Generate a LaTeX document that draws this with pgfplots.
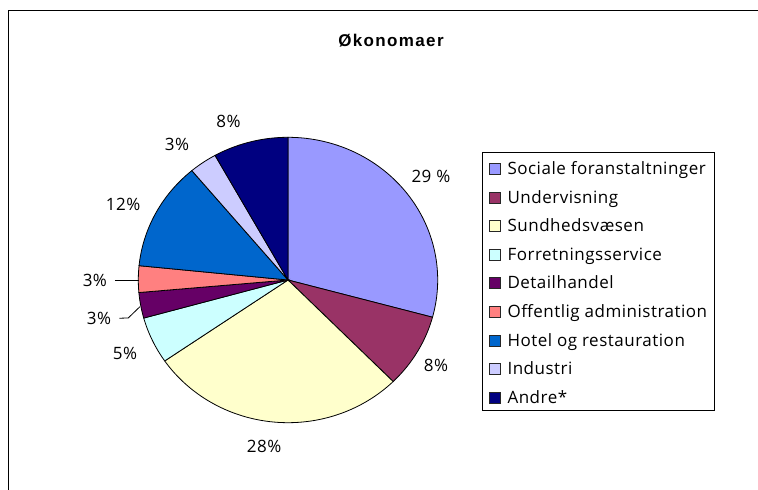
\documentclass[border=0pt]{standalone}
\usepackage{fontspec}
\setmainfont[LetterSpace=3]{Open Sans}
\newfontfamily\titlefont[LetterSpace=8]{Liberation Sans}
\usepackage{pgfplots}
\usepackage{pgfplotstable}
\pgfplotsset{compat=1.18}
\definecolor{c1}{HTML}{9999FF}
\definecolor{c2}{HTML}{993366}
\definecolor{c3}{HTML}{FFFFCC}
\definecolor{c4}{HTML}{CCFFFF}
\definecolor{c5}{HTML}{660066}
\definecolor{c6}{HTML}{FF8080}
\definecolor{c7}{HTML}{0066CC}
\definecolor{c8}{HTML}{CCCCFF}
\definecolor{c9}{HTML}{000080}
\pgfplotstableread[col sep=semicolon,row sep=\\]{
name;value;color\\
Sociale foranstaltninger;29.2;c1\\
Undervisning;8.4;c2\\
Sundhedsvæsen;27.8;c3\\
Forretningsservice;5.3;c4\\
Detailhandel;2.9;c5\\
Offentlig administration;3.0;c6\\
Hotel og restauration;12.3;c7\\
Industri;3.0;c8\\
Andre*;8.1;c9\\
}\piedata
\begin{document}
\begin{tikzpicture}
\useasboundingbox (0,0) rectangle (758pt,490pt);
\draw[line width=1pt] (8pt,0pt) -- (8pt,479pt) -- (758pt,479pt);
\node[font=\titlefont\bfseries\fontsize{17}{20}\selectfont] at (391pt,449pt) {Økonomaer};
\begin{axis}[
  scale only axis, width=299.4pt, height=285.4pt,
  at={(288pt,210pt)}, anchor=center,
  xmin=-1, xmax=1, ymin=-1, ymax=1,
  hide axis, clip=false,
  font=\fontsize{17}{20}\selectfont,
  legend style={at={(1.148,0.949)}, anchor=north west, draw=black, line width=0.8pt,
    inner xsep=7pt, inner ysep=6.9pt, row sep=13.35pt, column sep=6.5pt,
    font=\fontsize{17}{20}\selectfont,
    cells={anchor=west},
    nodes={inner sep=0pt, text height=15.2pt, text depth=0pt}},
  legend image code/.code={\draw[#1, line width=0.6pt, draw=black!85] (0pt,-7.4pt) rectangle (11pt,3.6pt);},
]
\pgfplotstablegetrowsof{\piedata}
\pgfmathtruncatemacro\N{\pgfplotsretval-1}
\def\cum{0}
\pgfplotsforeachungrouped \i in {0,...,\N}{%
  \pgfplotstablegetelem{\i}{value}\of\piedata \let\sliceval\pgfplotsretval
  \pgfplotstablegetelem{\i}{color}\of\piedata \let\slicecol\pgfplotsretval
  \pgfplotstablegetelem{\i}{name}\of\piedata \let\slicename\pgfplotsretval
  \pgfmathsetmacro\a{90-3.6*\cum}%
  \pgfmathsetmacro\cum{\cum+\sliceval}%
  \pgfmathsetmacro\b{90-3.6*\cum}%
  \edef\doplot{\noexpand\addplot[draw=black, line width=0.8pt, fill=\slicecol, domain=\b:\a, samples=90, variable=\noexpand\t] ({cos(\noexpand\t)},{sin(\noexpand\t)}) -- (axis cs:0,0) -- cycle; \noexpand\addlegendentry{\slicename}}%
  \doplot
}
\node at (axis cs:0.955,0.729) {29 \%};
\node at (axis cs:0.988,-0.596) {8\%};
\node at (axis cs:-0.160,-1.168) {28\%};
\node at (axis cs:-1.089,-0.514) {5\%};
\node at (axis cs:-1.262,-0.266) {3\%};
\node at (axis cs:-1.290,0) {3\%};
\node at (axis cs:-1.102,0.533) {12\%};
\node at (axis cs:-0.742,0.953) {3\%};
\node at (axis cs:-0.397,1.109) {8\%};
\draw[line width=0.8pt] (axis cs:-1.127,-0.268) -- (axis cs:-1.067,-0.266) -- (axis cs:-0.989,-0.187);
\draw[line width=0.8pt] (axis cs:-1.156,-0.005) -- (axis cs:-0.995,-0.005);
\end{axis}
\end{tikzpicture}
\end{document}
